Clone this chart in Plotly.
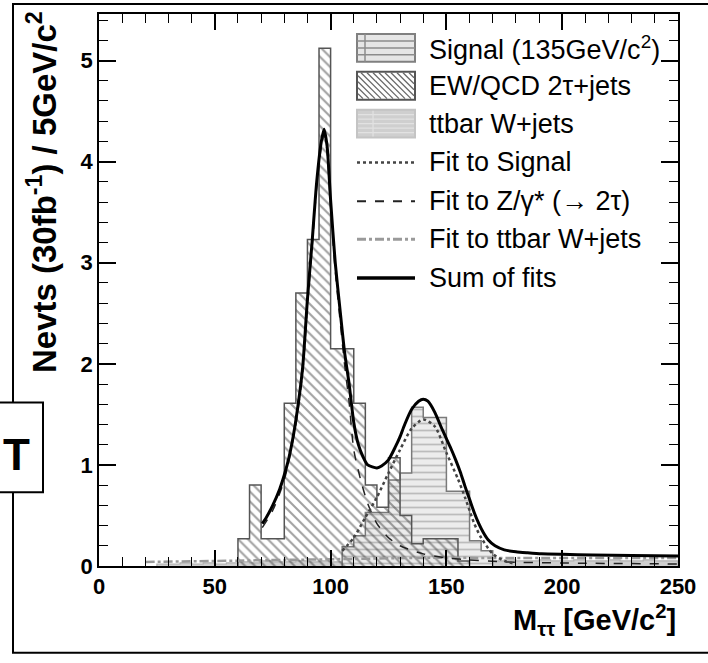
import plotly.graph_objects as go

# ---------------- data ----------------
BIN = 5.0
ew_start = 60
ew_values = [0.27, 0.80, 0.27, 0.27, 1.61, 2.70, 3.23, 5.12, 2.15, 2.15,
             1.61, 0.80, 0.58, 1.07, 0.50, 0.22, 0.27, 0.27, 0.27, 0.05]
sig_start = 105
sig_values = [0.19, 0.30, 0.53, 0.53, 0.85, 0.92, 1.57, 1.47, 1.47, 0.74,
              0.74, 0.25, 0.15]
tt_start = 25
tt_values = [0.02, 0.02, 0.03, 0.02, 0.03, 0.02, 0.03,
             0.04, 0.03, 0.05, 0.04, 0.04, 0.05, 0.04, 0.05, 0.04, 0.05,
             0.06, 0.08, 0.06, 0.07, 0.06, 0.08, 0.06, 0.07, 0.06, 0.07, 0.06, 0.05,
             0.05, 0.06, 0.05, 0.05, 0.06, 0.05, 0.05, 0.06, 0.05, 0.05, 0.06, 0.05,
             0.05, 0.06, 0.05, 0.05]

sum_x = [70.5, 72, 75, 78, 80, 82, 84, 86, 88, 90, 92, 94, 96, 97.2, 98.5, 100, 102,
         104, 106, 108, 110, 112, 114, 116, 118, 120, 122, 125, 128, 130, 132, 135,
         138, 140, 142, 145, 148, 150, 152, 154, 156, 158, 160, 162, 164, 166, 168,
         171, 175, 180, 185, 191, 200, 213, 230, 250]
sum_y = [0.42, 0.47, 0.60, 0.76, 0.90, 1.07, 1.30, 1.60, 1.98, 2.64, 3.20, 3.80, 4.20,
         4.32, 4.15, 3.62, 3.00, 2.55, 2.12, 1.80, 1.42, 1.20, 1.08, 1.00, 0.98, 0.97,
         0.99, 1.05, 1.18, 1.28, 1.40, 1.55, 1.63, 1.65, 1.63, 1.52, 1.36, 1.26, 1.16,
         1.05, 0.93, 0.79, 0.66, 0.53, 0.42, 0.33, 0.26, 0.20, 0.16, 0.14, 0.13, 0.12,
         0.115, 0.11, 0.105, 0.10]

z_x = [70.5, 75, 80, 85, 88, 90, 92, 94, 96, 97.2, 98.5, 100, 102, 104, 106, 108, 110,
       113, 116, 120, 125, 130, 140, 150, 160, 175, 200, 250]
z_y = [0.38, 0.55, 0.85, 1.40, 1.93, 2.58, 3.15, 3.75, 4.15, 4.27, 4.10, 3.55, 2.92,
       2.45, 2.00, 1.62, 1.15, 0.85, 0.62, 0.42, 0.28, 0.20, 0.12, 0.08, 0.06, 0.04,
       0.03, 0.02]

sigfit_x = [105, 110, 115, 120, 125, 130, 135, 140, 145, 150, 155, 158, 160, 162, 165,
            170, 175, 180]
sigfit_y = [0.15, 0.28, 0.48, 0.68, 0.92, 1.15, 1.36, 1.45, 1.38, 1.12, 0.86, 0.68,
            0.55, 0.42, 0.28, 0.12, 0.05, 0.02]

ttfit_x = [20, 50, 80, 110, 140, 170, 200, 250]
ttfit_y = [0.04, 0.05, 0.06, 0.07, 0.08, 0.08, 0.08, 0.08]

x_ticks = [0, 50, 100, 150, 200, 250]
y_ticks = [0, 1, 2, 3, 4, 5]

legend_labels = ["Signal (135GeV/c<sup>2</sup>)", "EW/QCD 2\u03c4+jets", "ttbar W+jets",
                 "Fit to Signal", "Fit to Z/\u03b3* (\u2192 2\u03c4)",
                 "Fit to ttbar W+jets", "Sum of fits"]

# ---------------- layout geometry ----------------
W, H = 708, 663
L, R, T, B = 99, 30, 12, 97
PW, PH = W - L - R, H - T - B
FONT = "Liberation Sans, Arial, Helvetica, sans-serif"


def px(xp):
    return (xp - L) / PW


def py(yp):
    return (H - B - yp) / PH


def step(start, vals):
    edges = [start + i * BIN for i in range(len(vals) + 1)]
    xs = [edges[0]] + edges[:-1] + [edges[-1], edges[-1]]
    ys = [0] + list(vals) + [vals[-1], 0]
    return xs, ys


fig = go.Figure()

# histograms
tx, ty = step(tt_start, tt_values)
fig.add_trace(go.Scatter(x=tx, y=ty, mode="lines", line=dict(shape="hv", color="#b0b0b0", width=1.2),
                         fill="tozeroy", fillcolor="#cfcfcf", showlegend=False))
sx, sy = step(sig_start, sig_values)
fig.add_trace(go.Scatter(x=sx, y=sy, mode="lines", line=dict(shape="hv", color="#7a7a7a", width=1.5),
                         fill="tozeroy", fillcolor="#ececec",
                         fillpattern=dict(shape="-", fgcolor="#8c8c8c", bgcolor="#ececec", size=7, solidity=0.25),
                         showlegend=False))
ex, ey = step(ew_start, ew_values)
fig.add_trace(go.Scatter(x=ex, y=ey, mode="lines", line=dict(shape="hv", color="#555555", width=1.5),
                         fill="tozeroy", fillcolor="rgba(255,255,255,0)",
                         fillpattern=dict(shape="\\", fgcolor="#444444", bgcolor="rgba(255,255,255,0)",
                                          size=7, solidity=0.3),
                         showlegend=False))

# fits
fig.add_trace(go.Scatter(x=ttfit_x, y=ttfit_y, mode="lines",
                         line=dict(color="#9a9a9a", width=2.5, dash="dashdot", shape="spline"), showlegend=False))
fig.add_trace(go.Scatter(x=z_x, y=z_y, mode="lines",
                         line=dict(color="#222222", width=1.5, dash="dash", shape="spline", smoothing=0.7),
                         showlegend=False))
fig.add_trace(go.Scatter(x=sigfit_x, y=sigfit_y, mode="lines",
                         line=dict(color="#444444", width=2.5, dash="dot", shape="spline", smoothing=0.7),
                         showlegend=False))
fig.add_trace(go.Scatter(x=sum_x, y=sum_y, mode="lines",
                         line=dict(color="black", width=3, shape="spline", smoothing=0.6), showlegend=False))

shapes = []
annotations = []

# outer frame
shapes.append(dict(type="rect", xref="paper", yref="paper", x0=px(13), x1=px(712), y0=py(653), y1=py(2),
                   line=dict(color="black", width=2), fillcolor="rgba(0,0,0,0)", layer="above"))
# "T" box
shapes.append(dict(type="rect", xref="paper", yref="paper", x0=px(-3), x1=px(43), y0=py(492), y1=py(402),
                   line=dict(color="black", width=2), fillcolor="white", layer="above"))
annotations.append(dict(text="<b>T</b>", xref="paper", yref="paper", x=px(16), y=py(454),
                        xanchor="center", yanchor="middle", showarrow=False,
                        font=dict(family=FONT, size=44, color="black")))

# ---------------- manual legend ----------------
rows = [46, 84, 122, 161, 200, 238, 277]
sx0, sx1 = 357, 415
half = 14


def line_shape(x0, y0, x1, y1, color, width, dash="solid"):
    shapes.append(dict(type="line", xref="paper", yref="paper", x0=px(x0), y0=py(y0), x1=px(x1), y1=py(y1),
                       line=dict(color=color, width=width, dash=dash), layer="above"))


# Signal swatch
r = rows[0]
shapes.append(dict(type="rect", xref="paper", yref="paper", x0=px(sx0), x1=px(sx1), y0=py(r + half), y1=py(r - half),
                   line=dict(color="#808080", width=2), fillcolor="#e6e6e6", layer="above"))
for k in (-7, 0, 7):
    line_shape(sx0, r + k, sx1, r + k, "#8c8c8c", 1.5)
line_shape(365, r - half, 365, r + half, "#8c8c8c", 1.5)

# EW swatch
r = rows[1]
shapes.append(dict(type="rect", xref="paper", yref="paper", x0=px(sx0), x1=px(sx1), y0=py(r + half), y1=py(r - half),
                   line=dict(color="#555555", width=2), fillcolor="white", layer="above"))
top, bot = r - half + 1, r + half - 1
hgt = bot - top
a = sx0 - hgt
while a < sx1:
    xa, ya = a, top
    xb, yb = a + hgt, bot
    if xa < sx0 + 1:
        ya = top + (sx0 + 1 - a)
        xa = sx0 + 1
    if xb > sx1 - 1:
        yb = top + (sx1 - 1 - a)
        xb = sx1 - 1
    if xb > xa:
        line_shape(xa, ya, xb, yb, "#666666", 1.2)
    a += 6

# ttbar swatch
r = rows[2]
shapes.append(dict(type="rect", xref="paper", yref="paper", x0=px(sx0), x1=px(sx1), y0=py(r + half), y1=py(r - half),
                   line=dict(color="#c4c4c4", width=2), fillcolor="#cfcfcf", layer="above"))
for k in (-9, -4.5, 0, 4.5, 9):
    line_shape(sx0 + 1, r + k, sx1 - 1, r + k, "#e2e2e2", 1.2)
line_shape(373, r - half + 1, 373, r + half - 1, "#e2e2e2", 1.2)

# line swatches
line_shape(sx0, rows[3], sx1, rows[3], "#444444", 2.5, "dot")
line_shape(sx0, rows[4], sx1, rows[4], "#222222", 2, "dash")
line_shape(sx0, rows[5], sx1, rows[5], "#9a9a9a", 3, "dashdot")
line_shape(sx0, rows[6], sx1, rows[6], "black", 3.5)

for lab, r in zip(legend_labels, rows):
    annotations.append(dict(text=lab, xref="paper", yref="paper", x=px(427), y=py(r),
                            xanchor="left", yanchor="middle", showarrow=False,
                            font=dict(family=FONT, size=27, color="black")))

# axis titles
annotations.append(dict(text="<b>Nevts (30fb<sup>-1</sup>) / 5GeV/c<sup>2</sup></b>", xref="paper", yref="paper",
                        x=px(42), y=py(7), xanchor="center", yanchor="top", textangle=-90, showarrow=False,
                        font=dict(family=FONT, size=33, color="black")))
annotations.append(dict(text="<b>M<sub>\u03c4\u03c4</sub> [GeV/c<sup>2</sup>]</b>", xref="paper", yref="paper",
                        x=1.0, y=py(620), xanchor="right", yanchor="middle", showarrow=False,
                        font=dict(family=FONT, size=29, color="black")))

axis_common = dict(showgrid=False, zeroline=False, showline=True, linecolor="black", linewidth=1.5,
                   mirror="allticks", ticks="inside", tickcolor="black", tickwidth=1.5,
                   tickfont=dict(family=FONT, size=22, color="black", weight="bold"))

fig.update_layout(
    width=W, height=H,
    margin=dict(l=L, r=R, t=T, b=B, pad=0),
    paper_bgcolor="white", plot_bgcolor="white",
    showlegend=False,
    xaxis=dict(range=[0, 250], tickvals=x_ticks, ticklen=16,
               minor=dict(ticks="inside", dtick=10, ticklen=9, tickcolor="black", tickwidth=1.2),
               **axis_common),
    yaxis=dict(range=[0, 5.46], tickvals=y_ticks, ticklen=17,
               minor=dict(ticks="inside", dtick=0.2, ticklen=9, tickcolor="black", tickwidth=1.2),
               **axis_common),
    shapes=shapes,
    annotations=annotations,
)

fig.write_html("out.html")
